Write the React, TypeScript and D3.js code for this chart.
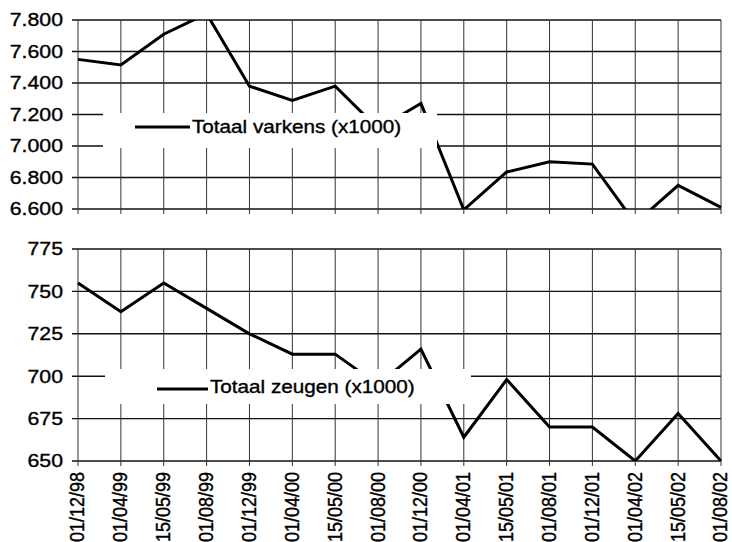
// @ts-nocheck
import React from 'react'
import * as d3 from 'd3'

const dates = [
  '01/12/98', '01/04/99', '15/05/99', '01/08/99', '01/12/99', '01/04/00', '15/05/00', '01/08/00',
  '01/12/00', '01/04/01', '15/05/01', '01/08/01', '01/12/01', '01/04/02', '15/05/02', '01/08/02',
]
const varkens = [7550, 7515, 7710, 7840, 7380, 7290, 7380, 7110, 7270, 6595, 6835, 6900, 6885, 6510, 6750, 6610]
const zeugen = [755, 738, 755, 740, 725, 713, 713, 695, 716, 664, 698, 670, 670, 650, 678, 650]
const varkensTicks = [6600, 6800, 7000, 7200, 7400, 7600, 7800]
const zeugenTicks = [650, 675, 700, 725, 750, 775]

const nl = d3.formatLocale({ decimal: ',', thousands: '.', grouping: [3], currency: ['', ''] })
const fmt = nl.format(',')

const FONT = 'Liberation Sans, Arial, sans-serif'
const SX = 1.15

// shared category axis, points sit on the gridlines
const x = d3.scalePoint().domain(dates).range([78, 721])

const textStyle = { fontFamily: FONT, fill: '#000', stroke: '#000', strokeWidth: 0.35 }

const Panel = ({ id, top, bottom, ticks, values, label, box, sample, labels }) => {
  const y = d3.scaleLinear().domain([ticks[0], ticks[ticks.length - 1]]).range([bottom, top])
  const line = d3
    .line()
    .x((d, i) => x(dates[i]))
    .y((d) => y(d))

  return (
    <g>
      <defs>
        <clipPath id={id}>
          <rect x={x.range()[0] - 2} y={top} width={x.range()[1] - x.range()[0] + 4} height={bottom - top} />
        </clipPath>
      </defs>
      {ticks.map((t) => (
        <line key={'h' + t} x1={72} x2={x.range()[1]} y1={y(t)} y2={y(t)} stroke="#111" strokeWidth={1.4} />
      ))}
      {dates.map((d) => (
        <line key={'v' + d} x1={x(d)} x2={x(d)} y1={top} y2={bottom + 5} stroke="#333" strokeWidth={1} />
      ))}
      <path d={line(values)} fill="none" stroke="#000" strokeWidth={3} clipPath={`url(#${id})`} />
      <rect x={box[0]} y={box[1]} width={box[2]} height={box[3]} fill="#fff" />
      <line x1={sample[0]} x2={sample[1]} y1={sample[2]} y2={sample[2]} stroke="#000" strokeWidth={3} />
      <text transform={`translate(${sample[1] + 2}, ${sample[3]}) scale(${SX},1)`} fontSize={18} {...textStyle}>
        {label}
      </text>
      {ticks.map((t) => (
        <text
          key={'l' + t}
          transform={`translate(63, ${y(t)}) scale(${SX},1)`}
          textAnchor="end"
          dominantBaseline="central"
          fontSize={18.5}
          {...textStyle}
        >
          {fmt(t)}
        </text>
      ))}
      {labels &&
        dates.map((d) => (
          <text
            key={'x' + d}
            transform={`translate(${x(d) - 1}, ${bottom + 11}) scale(${SX},1) rotate(-90)`}
            textAnchor="end"
            dominantBaseline="central"
            fontSize={18}
            {...textStyle}
          >
            {d}
          </text>
        ))}
    </g>
  )
}

const App = () => {
  return (
    <svg width={732} height={542} style={{ position: 'absolute', left: 0, top: 0, background: '#fff' }}>
      <rect width={732} height={542} fill="#fff" />
      <Panel
        id="clipTop"
        top={20}
        bottom={209}
        ticks={varkensTicks}
        values={varkens}
        label="Totaal varkens (x1000)"
        box={[103, 113, 334, 35]}
        sample={[135, 190, 127, 133]}
        labels={false}
      />
      <Panel
        id="clipBottom"
        top={249}
        bottom={461}
        ticks={zeugenTicks}
        values={zeugen}
        label="Totaal zeugen (x1000)"
        box={[105, 369, 366, 35]}
        sample={[157, 208, 389, 393]}
        labels={true}
      />
    </svg>
  )
}

export default App
